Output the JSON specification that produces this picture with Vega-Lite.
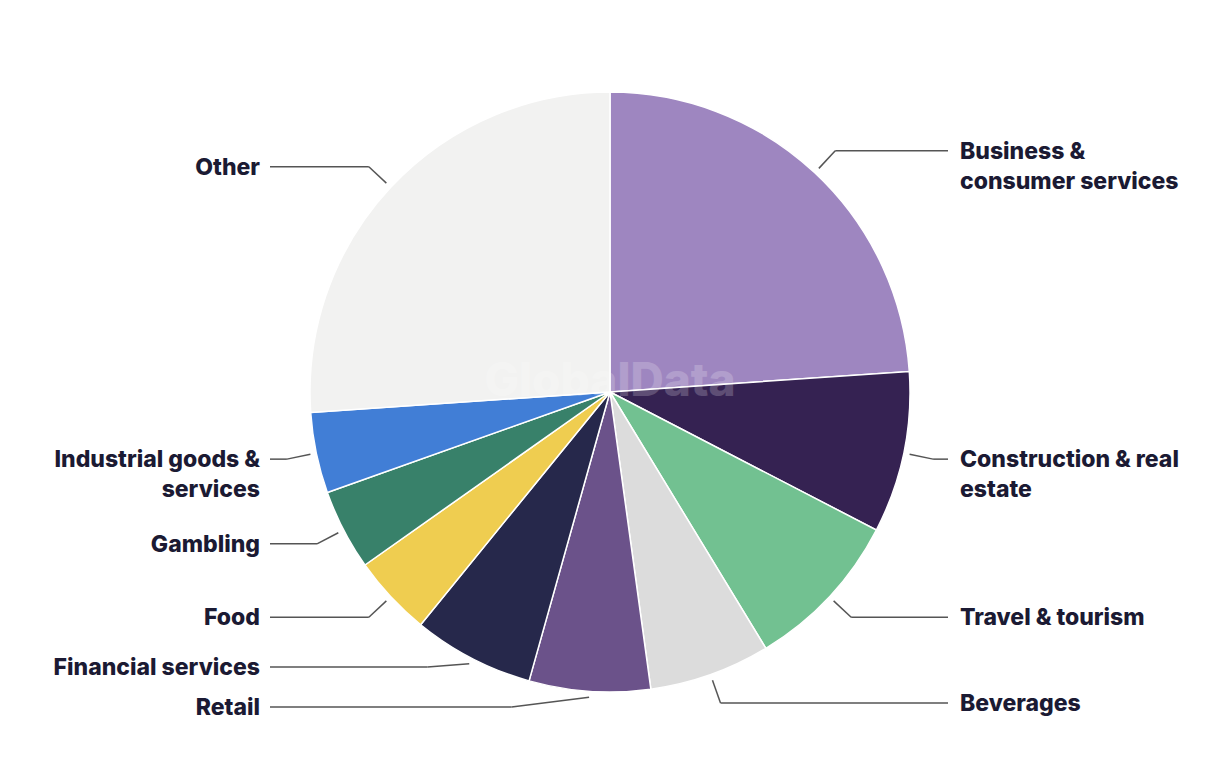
{
  "$schema": "https://vega.github.io/schema/vega-lite/v6.json",
  "width": 1220,
  "height": 764,
  "autosize": {"type": "fit", "contains": "padding"},
  "padding": {"top": 20, "bottom": 0, "left": 0, "right": 0},
  "background": "white",
  "config": {"view": {"stroke": null}},
  "data": {
    "values": [
      {"sector": "Business & consumer services", "label": "Business &\nconsumer services", "value": 11},
      {"sector": "Construction & real estate", "label": "Construction & real\nestate", "value": 4},
      {"sector": "Travel & tourism", "label": "Travel & tourism", "value": 4},
      {"sector": "Beverages", "label": "Beverages", "value": 3},
      {"sector": "Retail", "label": "Retail", "value": 3},
      {"sector": "Financial services", "label": "Financial services", "value": 3},
      {"sector": "Food", "label": "Food", "value": 2},
      {"sector": "Gambling", "label": "Gambling", "value": 2},
      {"sector": "Industrial goods & services", "label": "Industrial goods &\nservices", "value": 2},
      {"sector": "Other", "label": "Other", "value": 12}
    ]
  },
  "transform": [
    {"window": [{"op": "row_number", "as": "rank"}, {"op": "sum", "field": "value", "as": "cum"}], "frame": [null, 0]},
    {"joinaggregate": [{"op": "sum", "field": "value", "as": "total"}]},
    {"calculate": "(datum.cum - datum.value / 2) / datum.total * 2 * PI", "as": "mid"},
    {"calculate": "sin(datum.mid) > 0 ? 'R' : 'L'", "as": "side"},
    {"calculate": "306 * sin(datum.mid)", "as": "sx"},
    {"calculate": "306 * cos(datum.mid)", "as": "sy"},
    {"calculate": "330 * cos(datum.mid)", "as": "ey0"},
    {"window": [{"op": "row_number", "as": "n"}], "groupby": ["side"], "sort": [{"field": "ey0", "order": "ascending"}]},
    {"calculate": "max(datum.ey0, -315 + 40 * (datum.n - 1))", "as": "ey"},
    {"calculate": "(datum.side == 'R' ? 1 : -1) * sqrt(330 * 330 - datum.ey * datum.ey)", "as": "ex"},
    {"calculate": "datum.side == 'R' ? 338 : -340", "as": "lx"},
    {"calculate": "datum.side == 'R' ? 350 : -350", "as": "tx"}
  ],
  "layer": [
    {
      "mark": {"type": "arc", "radius": 300, "stroke": "white", "strokeWidth": 1.5},
      "encoding": {
        "theta": {"field": "value", "type": "quantitative", "stack": true},
        "order": {"field": "rank", "type": "quantitative"},
        "color": {
          "field": "sector",
          "type": "nominal",
          "legend": null,
          "scale": {
            "domain": ["Business & consumer services", "Construction & real estate", "Travel & tourism", "Beverages", "Retail", "Financial services", "Food", "Gambling", "Industrial goods & services", "Other"],
            "range": ["#9e86c0", "#352252", "#72c191", "#dcdcdc", "#6b528a", "#26284b", "#efcd50", "#38816a", "#417ed6", "#f2f2f1"]
          }
        }
      }
    },
    {
      "data": {"values": [{"t": "GlobalData"}]},
      "transform": [],
      "mark": {"type": "text", "font": "Inter", "fontWeight": 800, "fontSize": 46, "fill": "white", "opacity": 0.2, "baseline": "middle", "align": "center", "dy": -10},
      "encoding": {"text": {"field": "t"}}
    },
    {
      "mark": {"type": "rule", "stroke": "#555555", "strokeWidth": 1.5},
      "encoding": {
        "x": {"field": "sx", "type": "quantitative", "scale": {"domain": [-610, 610], "nice": false, "zero": false}, "axis": null},
        "y": {"field": "sy", "type": "quantitative", "scale": {"domain": [-372, 372], "nice": false, "zero": false}, "axis": null},
        "x2": {"field": "ex"},
        "y2": {"field": "ey"}
      }
    },
    {
      "mark": {"type": "rule", "stroke": "#555555", "strokeWidth": 1.5},
      "encoding": {
        "x": {"field": "ex", "type": "quantitative"},
        "y": {"field": "ey", "type": "quantitative"},
        "x2": {"field": "lx"},
        "y2": {"field": "ey"}
      }
    },
    {
      "transform": [{"filter": "datum.side == 'R'"}],
      "mark": {"type": "text", "font": "Inter", "fontWeight": 800, "fontSize": 23, "fill": "#1b1a33", "align": "left", "baseline": "alphabetic", "dy": 8, "lineBreak": "\n", "lineHeight": 30},
      "encoding": {
        "x": {"field": "tx", "type": "quantitative"},
        "y": {"field": "ey", "type": "quantitative"},
        "text": {"field": "label"}
      }
    },
    {
      "transform": [{"filter": "datum.side == 'L'"}],
      "mark": {"type": "text", "font": "Inter", "fontWeight": 800, "fontSize": 23, "fill": "#1b1a33", "align": "right", "baseline": "alphabetic", "dy": 8, "lineBreak": "\n", "lineHeight": 30},
      "encoding": {
        "x": {"field": "tx", "type": "quantitative"},
        "y": {"field": "ey", "type": "quantitative"},
        "text": {"field": "label"}
      }
    }
  ]
}
